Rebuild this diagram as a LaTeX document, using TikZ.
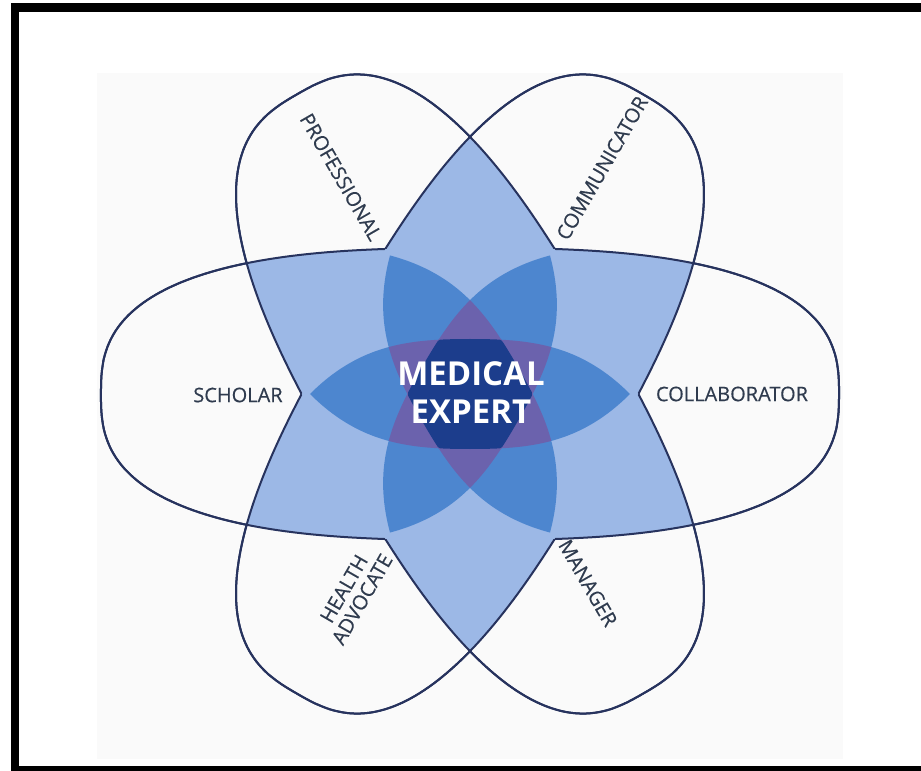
\documentclass[tikz,border=0pt]{standalone}
\usepackage{fontspec}
\setmainfont{Open Sans}
\newfontfamily\rolefont[FakeBold=0.4]{Open Sans}
\definecolor{rimcol}{HTML}{27335E}
\definecolor{pairblue}{HTML}{9CB8E6}
\definecolor{coreblue}{HTML}{4D86CF}
\definecolor{corepurple}{HTML}{6B62AD}
\definecolor{corenavy}{HTML}{1C3D8C}
\definecolor{labelgrey}{HTML}{2F3B4E}
\definecolor{panelgrey}{HTML}{FAFAFA}
% rounded oval (superellipse), half length #1, half width #2
\newcommand\roleoval[2]{plot[domain=1:361,samples=241,variable=\t]
	({#1*sign(cos(\t))*pow(abs(cos(\t)),0.74)},{#2*sign(sin(\t))*pow(abs(sin(\t)),0.74)}) -- cycle}
% pointed lens of the core
\newcommand\corelens{(-160,0) .. controls (-110,50) and (-60,55) .. (0,55) .. controls (60,55) and (110,50) .. (160,0)
	.. controls (110,-50) and (60,-55) .. (0,-55) .. controls (-60,-55) and (-110,-50) .. cycle}
\tikzset{
	role/.style={text=labelgrey,font=\rolefont\fontsize{20}{21}\selectfont,inner sep=0pt,align=center},
	core/.style={text=white,font=\bfseries\fontsize{33}{38}\selectfont,inner sep=0pt,align=center},
	rim/.style={draw=rimcol,line width=2pt},
	twofold/.style={fill=pairblue},
	outside/.style={even odd rule}
}

\begin{document}
\begin{tikzpicture}[x=1pt,y=1pt]
	\useasboundingbox (-470,-377) rectangle (451,394);
	\fill[white] (-470,-377) rectangle (451,394);
	\fill[panelgrey] (-373,-365) rectangle (373,321);
	\draw[line width=8.5pt] (-455,-376.5) rectangle (460,386.5);
	
	% overlaps of two ovals
	\begin{scope}
		\clip \roleoval{369}{146};
		\fill[twofold,rotate=60] \roleoval{346}{147};
		\fill[twofold,rotate=-60] \roleoval{346}{147};
	\end{scope}
	\begin{scope}
		\clip[rotate=60] \roleoval{346}{147};
		\fill[twofold,rotate=-60] \roleoval{346}{147};
	\end{scope}
	
	% core
	\fill[coreblue] \corelens;
	\fill[coreblue,rotate=60] \corelens;
	\fill[coreblue,rotate=120] \corelens;
	\begin{scope}
		\clip \corelens;
		\fill[corepurple,rotate=60] \corelens;
		\fill[corepurple,rotate=120] \corelens;
	\end{scope}
	\begin{scope}
		\clip[rotate=60] \corelens;
		\fill[corepurple,rotate=120] \corelens;
	\end{scope}
	\begin{scope}
		\clip (0,0) circle (62);
		\clip \corelens;
		\clip[rotate=60] \corelens;
		\fill[corenavy,rotate=120] \corelens;
	\end{scope}
	
	% outlines, left out where two other ovals cover them
	\begin{scope}[outside]
		\clip[rotate=60] (-800,-800) rectangle (800,800) \roleoval{346}{147};
		\draw[rim] \roleoval{369}{146};
		\draw[rim,rotate=-60] \roleoval{346}{147};
	\end{scope}
	\begin{scope}[outside]
		\clip[rotate=-60] (-800,-800) rectangle (800,800) \roleoval{346}{147};
		\draw[rim] \roleoval{369}{146};
		\draw[rim,rotate=60] \roleoval{346}{147};
	\end{scope}
	\begin{scope}[outside]
		\clip (-800,-800) rectangle (800,800) \roleoval{369}{146};
		\draw[rim,rotate=60] \roleoval{346}{147};
		\draw[rim,rotate=-60] \roleoval{346}{147};
	\end{scope}
	
	\node[core] (expert) at (1,1.5) {MEDICAL\\EXPERT};
	\node[role] (scholar) at (-232,-1) {SCHOLAR};
	\node[role] (collab) at (262,0) {COLLABORATOR};
	\node[role,rotate=-60] (prof) at (-129,217) {PROFESSIONAL};
	\node[role,rotate=60] (comm) at (132,226) {COMMUNICATOR};
	\node[role,rotate=60] (health) at (-117,-200) {HEALTH\\ADVOCATE};
	\node[role,rotate=-60] (manager) at (118,-189) {MANAGER};
\end{tikzpicture}
\end{document}
